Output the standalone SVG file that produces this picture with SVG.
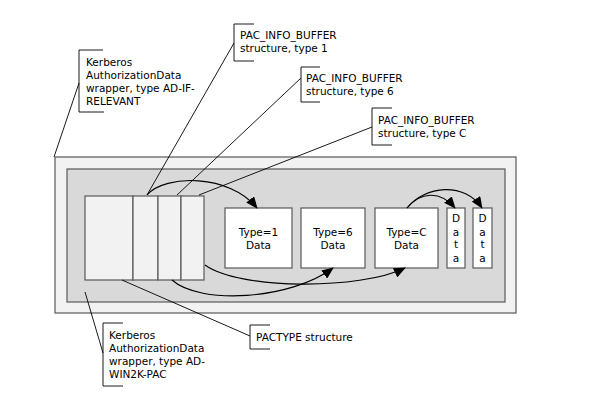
<svg xmlns="http://www.w3.org/2000/svg" width="601" height="404" viewBox="0 0 601 404">
<style>
text{font-family:"DejaVu Sans","Verdana",sans-serif;font-size:10.5px;fill:#000}
.c{text-anchor:middle}
.box{stroke:#595959;stroke-width:1.2}
.lead{stroke:#000;stroke-width:0.9;fill:none}
.brk{stroke:#000;stroke-width:0.9;fill:none}
.arr{stroke:#000;stroke-width:1.1;fill:none;marker-end:url(#ah)}
</style>
<defs>
<marker id="ah" markerUnits="userSpaceOnUse" markerWidth="12" markerHeight="10" viewBox="0 0 12 10" refX="11" refY="5" orient="auto">
<path d="M0,0 L12,5 L0,10 Z" fill="#000"/>
</marker>
</defs>
<rect width="601" height="404" fill="#fff"/>
<g id="outer"><rect class="box" x="55" y="157" width="461" height="156" fill="#f2f2f2"/></g>
<g id="inner"><rect class="box" x="67" y="169" width="438" height="133" fill="#d9d9d9"/></g>
<g id="pactype">
<rect class="box" x="85" y="196" width="48" height="84" fill="#f2f2f2"/>
<rect class="box" x="133" y="196" width="25" height="84" fill="#f2f2f2"/>
<rect class="box" x="158" y="196" width="23" height="84" fill="#f2f2f2"/>
<rect class="box" x="181" y="196" width="23" height="84" fill="#f2f2f2"/>
</g>
<g id="type1"><rect class="box" x="225" y="208" width="67" height="60" fill="#fff"/><text class="c" x="258.5" y="236">Type=1</text><text class="c" x="258.5" y="249">Data</text></g>
<g id="type6"><rect class="box" x="301" y="208" width="64" height="60" fill="#fff"/><text class="c" x="333" y="236">Type=6</text><text class="c" x="333" y="249">Data</text></g>
<g id="typeC"><rect class="box" x="375" y="208" width="63" height="60" fill="#fff"/><text class="c" x="406.5" y="236">Type=C</text><text class="c" x="406.5" y="249">Data</text></g>
<g id="data1"><rect class="box" x="447" y="208" width="18" height="60" fill="#fff"/><text class="c" x="456" y="222">D</text><text class="c" x="456" y="236">a</text><text class="c" x="456" y="248">t</text><text class="c" x="456" y="262">a</text></g>
<g id="data2"><rect class="box" x="473" y="208" width="19" height="60" fill="#fff"/><text class="c" x="482.5" y="222">D</text><text class="c" x="482.5" y="236">a</text><text class="c" x="482.5" y="248">t</text><text class="c" x="482.5" y="262">a</text></g>
<g id="label-adif">
<path class="brk" d="M103,50 H79 V112 H104"/>
<text x="86" y="66">Kerberos</text><text x="86" y="79">AuthorizationData</text><text x="86" y="92">wrapper, type AD-IF-</text><text x="86" y="105">RELEVANT</text>
</g>
<g id="label-pib1">
<path class="brk" d="M254,24 H234 V61 H254"/>
<text x="240" y="39">PAC_INFO_BUFFER</text><text x="240" y="52">structure, type 1</text>
</g>
<g id="label-pib6">
<path class="brk" d="M320,67 H301 V102 H320"/>
<text x="306" y="82">PAC_INFO_BUFFER</text><text x="306" y="95">structure, type 6</text>
</g>
<g id="label-pibC">
<path class="brk" d="M392,108 H372 V145 H392"/>
<text x="378" y="124">PAC_INFO_BUFFER</text><text x="378" y="137">structure, type C</text>
</g>
<g id="label-win2k">
<path class="brk" d="M123,323 H103 V386 H123"/>
<text x="109" y="339">Kerberos</text><text x="109" y="352">AuthorizationData</text><text x="109" y="365">wrapper, type AD-</text><text x="109" y="378">WIN2K-PAC</text>
</g>
<g id="label-pactype">
<path class="brk" d="M270,325 H250 V349 H270"/>
<text x="256" y="341">PACTYPE structure</text>
</g>
<g id="connectors">
<path class="lead" d="M79,83 L54,157"/>
<path class="lead" d="M234,43 L147,195"/>
<path class="lead" d="M301,78 L177,195"/>
<path class="lead" d="M372,127 L199,195"/>
<path class="lead" d="M85,292 L103,353"/>
<path class="lead" d="M122,280 L250,336"/>
<path class="arr" d="M147,195 C165,174 230,174 257,208"/>
<path class="arr" d="M205,265 C240,290 360,290 405,268"/>
<path class="arr" d="M172,280 C200,305 290,300 333,268"/>
<path class="arr" d="M407,208 C420,192 440,190 455,208"/>
<path class="arr" d="M407,208 C425,185 465,182 482,208"/>
</g>
</svg>
